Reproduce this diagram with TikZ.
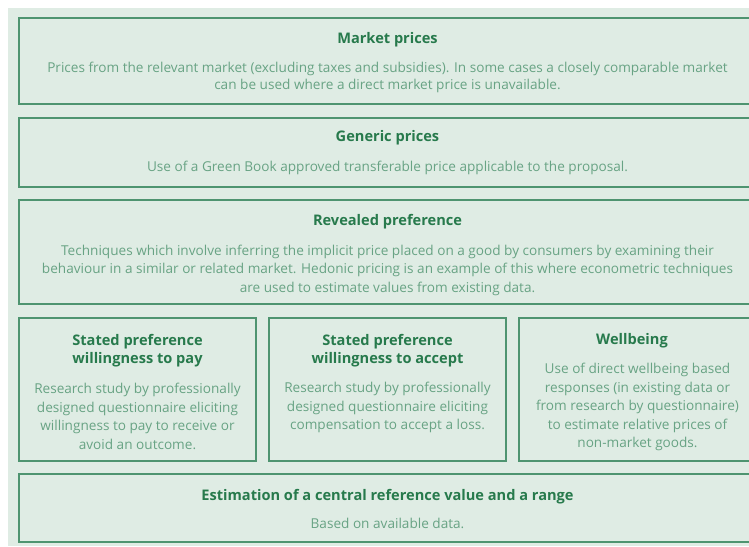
\documentclass[tikz,border=0pt]{standalone}
\usepackage{fontspec}
\setmainfont{Open Sans}
\definecolor{bggreen}{HTML}{DFECE4}
\definecolor{edgegreen}{HTML}{4E9470}
\definecolor{headgreen}{HTML}{277A4C}
\definecolor{textgreen}{HTML}{68A384}
\begin{document}
\begin{tikzpicture}[x=1pt,y=-1pt,
        panel/.style={draw=edgegreen,line width=1.6pt,inner sep=0pt},
        head/.style={text=headgreen,font=\fontsize{14.6}{18.5}\selectfont\bfseries,align=center,inner sep=0pt},
        body/.style={text=textgreen,font=\fontsize{13.6}{18.5}\selectfont,align=center,inner sep=0pt}]
    \useasboundingbox (0,0) rectangle (749,546);
    \fill [bggreen] (8,8) rectangle (749,546);
    \begin{scope}
        \clip (0,0) rectangle (749,546);

        \node [panel,minimum width=737pt,minimum height=86pt] (market) at (387.5,61) {};
        \node [head] (markethead) at (387.5,40) {Market prices};
        \node [body,font=\fontsize{13.6}{16.5}\selectfont] (markettext) at (387.5,77.5) {Prices from the relevant market (excluding taxes and subsidies). In some cases a closely comparable market\\can be used where a direct market price is unavailable.};

        \node [panel,minimum width=737pt,minimum height=69pt] (generic) at (387.5,152.5) {};
        \node [head] (generichead) at (387.5,138) {Generic prices};
        \node [body] (generictext) at (387.5,168) {Use of a Green Book approved transferable price applicable to the proposal.};

        \node [panel,minimum width=737pt,minimum height=104pt] (revealed) at (387.5,252) {};
        \node [head] (revealedhead) at (387.5,222) {Revealed preference};
        \node [body] (revealedtext) at (387.5,270) {Techniques which involve inferring the implicit price placed on a good by consumers by examining their\\behaviour in a similar or related market. Hedonic pricing is an example of this where econometric techniques\\are used to estimate values from existing data.};

        \node [panel,minimum width=237pt,minimum height=143pt] (pay) at (137.5,389.5) {};
        \node [head] (payhead) at (137.5,350.5) {Stated preference\\willingness to pay};
        \node [body] (paytext) at (137.5,416.5) {Research study by professionally\\designed questionnaire eliciting\\willingness to pay to receive or\\avoid an outcome.};

        \node [panel,minimum width=237pt,minimum height=143pt] (accept) at (387.5,389.5) {};
        \node [head] (accepthead) at (387.5,350.5) {Stated preference\\willingness to accept};
        \node [body] (accepttext) at (387.5,407.5) {Research study by professionally\\designed questionnaire eliciting\\compensation to accept a loss.};

        \node [panel,minimum width=237pt,minimum height=143pt] (wellbeing) at (637.5,389.5) {};
        \node [head] (wellbeinghead) at (632,341) {Wellbeing};
        \node [body] (wellbeingtext) at (637.5,407) {Use of direct wellbeing based\\responses (in existing data or\\from research by questionnaire)\\to estimate relative prices of\\non-market goods.};

        \node [panel,minimum width=737pt,minimum height=68pt] (estimate) at (387.5,508) {};
        \node [head] (estimatehead) at (387.5,497) {Estimation of a central reference value and a range};
        \node [body] (estimatetext) at (387.5,523) {Based on available data.};
    \end{scope}
\end{tikzpicture}
\end{document}
